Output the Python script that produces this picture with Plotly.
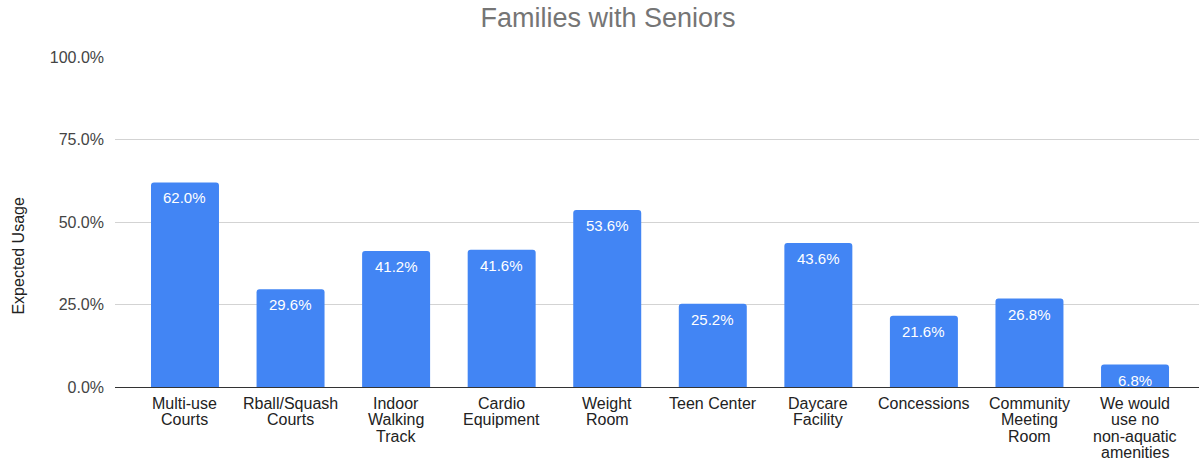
import plotly.graph_objects as go

categories = [
    "Multi-use<br>Courts", "Rball/Squash<br>Courts", "Indoor<br>Walking<br>Track",
    "Cardio<br>Equipment", "Weight<br>Room", "Teen Center", "Daycare<br>Facility",
    "Concessions", "Community<br>Meeting<br>Room", "We would<br>use no<br>non-aquatic<br>amenities",
]
values = [0.620, 0.296, 0.412, 0.416, 0.536, 0.252, 0.436, 0.216, 0.268, 0.068]
y_ticks = [0, 0.25, 0.5, 0.75, 1.0]

FONT = "Liberation Sans, Arial, sans-serif"
xs = list(range(len(categories)))

fig = go.Figure(go.Bar(
    x=xs,
    y=values,
    width=0.644,
    marker=dict(color="#4285F4", cornerradius=3, line=dict(width=0)),
    hoverinfo="skip",
))

annotations = []
# value labels just inside the top of each bar
for i, v in enumerate(values):
    annotations.append(dict(
        x=i, y=v, xref="x", yref="y", text=f"{v*100:.1f}%", showarrow=False,
        xanchor="center", yanchor="middle", yshift=-15.5,
        font=dict(size=15, color="white", family=FONT),
    ))
# category labels, one annotation per line for tight line spacing
for i, lab in enumerate(categories):
    for j, line in enumerate(lab.split("<br>")):
        annotations.append(dict(
            x=i, y=0, xref="x", yref="y", text=line, showarrow=False,
            xanchor="center", yanchor="middle", yshift=-(16 + j * 16.5),
            font=dict(size=16, color="#222222", family=FONT),
        ))
annotations.append(dict(
    x=-0.0899, y=0.5 - 34 / 330, xref="paper", yref="paper", text="Expected Usage",
    textangle=-90, showarrow=False, xanchor="center", yanchor="middle",
    font=dict(size=16, color="#222222", family=FONT),
))

fig.update_layout(
    width=1199, height=463,
    margin=dict(l=115, r=0, t=57, b=76),
    paper_bgcolor="white", plot_bgcolor="white",
    showlegend=False,
    title=dict(text="Families with Seniors", x=608 / 1199, xref="container", xanchor="center",
               y=1 - 18 / 463, yanchor="middle",
               font=dict(family=FONT, size=27, color="#757575")),
    font=dict(family=FONT),
    annotations=annotations,
)
fig.update_xaxes(
    range=[-0.663, 9.606],
    tickmode="array", tickvals=xs, ticktext=[""] * len(xs),
    showgrid=False, zeroline=False, showline=False, ticks="",
)
fig.update_yaxes(
    range=[0, 1.0], tickvals=y_ticks, tickformat=".1%",
    tickfont=dict(size=16, color="#444444", family=FONT),
    gridcolor="#d3d3d3", gridwidth=1,
    zeroline=True, zerolinecolor="#333333", zerolinewidth=1,
    showline=False, ticks="", ticklabelstandoff=10,
)
fig.write_html("out.html", post_script="document.body.style.margin='0';",
               config={"displayModeBar": False})
